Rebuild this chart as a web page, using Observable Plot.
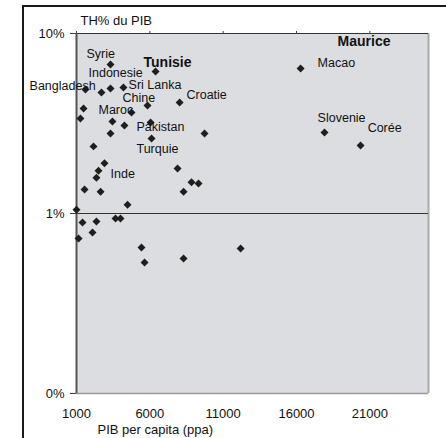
<!DOCTYPE html>
<html>
<head>
<meta charset="utf-8">
<script src="https://cdn.jsdelivr.net/npm/d3@7"></script>
<script src="https://cdn.jsdelivr.net/npm/@observablehq/plot@0.6"></script>
<style>
  html, body { margin: 0; padding: 0; background: #fff; }
  #wrap { position: relative; width: 446px; height: 438px; overflow: hidden; }
  #frame { position: absolute; left: 22px; top: 5px; right: -4px; bottom: -4px;
           border-top: 2px solid #1a1a1a; border-left: 2px solid #1a1a1a; pointer-events: none; }
</style>
</head>
<body>
<div id="wrap"><div id="frame"></div></div>
<script>
// PIB per capita (ppa) and TH% du PIB for each country point
const pibPerCapita = [3320, 6390, 1610, 2700, 3320, 4200, 1480, 1270, 4750, 5840, 8030, 3450, 4270, 6050,
  3320, 6120, 9730, 2160, 2910, 2500, 2360, 7890, 8840, 9320, 8300, 1550, 2640, 4480, 1000, 1410,
  2360, 2090, 1140, 3660, 4000, 5430, 5640, 8300, 12190, 16280, 17910, 20370];
const thPct = [6.73, 6.15, 4.89, 4.70, 4.95, 5.01, 3.83, 3.37, 3.64, 3.98, 4.14, 3.24, 3.08, 3.20,
  2.78, 2.61, 2.78, 2.36, 1.90, 1.73, 1.58, 1.78, 1.49, 1.47, 1.32, 1.36, 1.32, 1.12, 1.05, 0.891,
  0.903, 0.784, 0.726, 0.938, 0.938, 0.647, 0.534, 0.562, 0.639, 6.39, 2.82, 2.39];

// Country labels, placed in data space
const labelNames = ["Syrie", "Tunisie", "Indonesie", "Bangladesh", "Sri Lanka", "Chine", "Croatie", "Maroc",
  "Pakistan", "Turquie", "Inde", "Macao", "Slovenie", "Corée", "Maurice"];
const labelX = [1680, 5570, 1820, -2200, 4550, 4140, 8500, 2500, 5090, 5090, 3320, 17440, 17440, 20850, 18800];
const labelY = [7.74, 6.90, 6.07, 5.14, 5.17, 4.41, 4.58, 3.76, 3.04, 2.27, 1.65, 6.90, 3.41, 3.00, 9.03];
const boldLabels = ["Tunisie", "Maurice"];

// Axes
const xTicks = [1000, 6000, 11000, 16000, 21000];
const yTicks = [0.1, 1, 10];
const yTickLabels = ["0%", "1%", "10%"];
const xDomain = [1000, 25000];
const yDomain = [0.1, 10];

const titleText = "TH% du PIB";
const xLabelText = "PIB per capita (ppa)";

const points = pibPerCapita.map((x, i) => ({x, y: thPct[i]}));
const labels = labelNames.map((name, i) => ({name, x: labelX[i], y: labelY[i]}));

const font = "Liberation Sans, Arial, Helvetica, sans-serif";

const chart = Plot.plot({
  width: 446,
  height: 438,
  marginLeft: 76,
  marginTop: 33,
  marginRight: 18,
  marginBottom: 45,
  style: {fontFamily: font, fontSize: "13px", background: "transparent", color: "#111"},
  x: {type: "linear", domain: xDomain, label: null},
  y: {type: "log", domain: yDomain, label: null},
  marks: [
    Plot.frame({fill: "#dcdde0", stroke: null}),
    Plot.ruleY([yDomain[0]], {stroke: "#999", strokeWidth: 1.5}),
    Plot.ruleX([xDomain[1]], {stroke: "#aaa", strokeWidth: 2}),
    Plot.ruleY([yDomain[1]], {stroke: "#333", strokeWidth: 1}),
    Plot.ruleY([1], {stroke: "#333", strokeWidth: 1}),
    Plot.ruleX([xDomain[0]], {stroke: "#555", strokeWidth: 2}),
    Plot.axisX({anchor: "top", ticks: xTicks, tickSize: 3, tickFormat: () => "", stroke: "#444", label: null}),
    Plot.axisX({anchor: "bottom", ticks: xTicks, tickSize: 0, tickPadding: 15, tickFormat: d => String(d), fontSize: 13, label: null}),
    Plot.axisY({anchor: "left", ticks: yTicks, tickSize: 6, tickPadding: 6, stroke: "#444",
      tickFormat: d => yTickLabels[yTicks.indexOf(d)], fontSize: 13, label: null}),
    Plot.dot(points, {x: "x", y: "y", symbol: "diamond2", r: 3.6, fill: "#1e1e1e", stroke: null}),
    Plot.text(labels.filter(d => !boldLabels.includes(d.name)), {x: "x", y: "y", text: "name",
      textAnchor: "start", lineAnchor: "middle", fontSize: 12.5, fill: "#111"}),
    Plot.text(labels.filter(d => boldLabels.includes(d.name)), {x: "x", y: "y", text: "name",
      textAnchor: "start", lineAnchor: "middle", fontSize: 14, fontWeight: "bold", fill: "#111"}),
    Plot.text([titleText], {frameAnchor: "top-left", dx: 4, dy: -13, textAnchor: "start", lineAnchor: "middle",
      fontSize: 13, fill: "#111"}),
    Plot.text([xLabelText], {frameAnchor: "bottom-left", dx: 21, dy: 36, textAnchor: "start", lineAnchor: "middle",
      fontSize: 13, fill: "#111"})
  ]
});
document.getElementById("wrap").insertBefore(chart, document.getElementById("frame"));
</script>
</body>
</html>
